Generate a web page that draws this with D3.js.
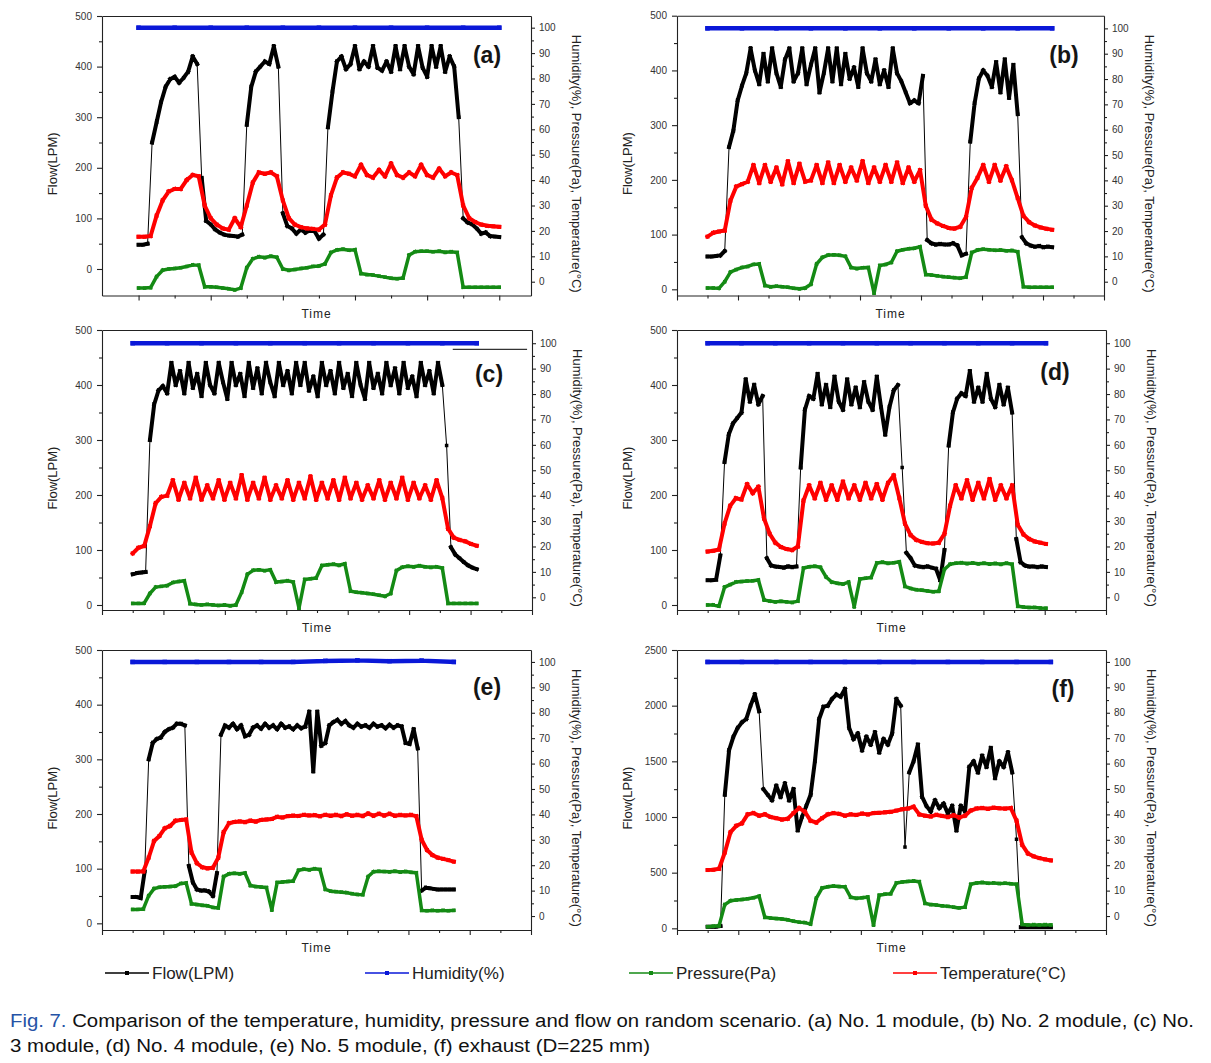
<!DOCTYPE html>
<html>
<head>
<meta charset="utf-8">
<script src="https://cdn.jsdelivr.net/npm/d3@7"></script>
<style>
  body { margin: 0; background: #fff; }
  svg { display: block; font-family: "Liberation Sans", Arial, sans-serif; }
  .axis path, .axis line { stroke: #222; stroke-width: 1.1; }
  .axis text { fill: #333; font-size: 10px; font-family: "Liberation Sans", Arial, sans-serif; }
</style>
</head>
<body>
<svg id="chart" width="1211" height="1063"></svg>
<script>
// ---- data (flow on left axis, the rest on right axis) ----
const aFlow = [48,48,50,250,290,330,360,375,380,368,378,390,420,405,180,95,88,78,72,68,66,65,64,68,285,360,390,400,410,405,440,400,110,85,80,70,78,72,76,75,60,68,280,350,410,420,395,405,440,395,410,400,440,398,392,410,390,440,395,440,400,385,440,398,380,440,400,440,390,420,400,300,100,92,88,80,70,72,65,64,63];
const aTemp = [17.7,17.7,18,26,32,35.5,36.5,36.5,40,42,41.5,30,25,22.5,21,20.5,25,21.5,30,39,43,42.5,43,41.5,32,25,22.5,21.5,21,20.8,20.5,22.5,34,41,43,42.5,41.5,46,42,41,44,41.5,46.5,42,41,43,41.5,46,42,41,44.5,41.5,43,42,30,25,23.5,22.5,22,21.8,21.6];
const aPres = [-2.5,-2.5,-2.3,2,4.5,5,5.2,5.5,6,6.6,6.5,-2,-2,-2.2,-2.5,-2.8,-3.2,-2.5,5.5,9,9.8,9.5,10,9.6,5,4.5,4.8,5.2,5.5,6,6.2,7,11.5,12.5,12.8,12.4,12.6,3.2,2.8,2.6,2.2,1.8,1.4,1.2,1.5,10.5,11.8,12,12,11.8,12,11.6,11.8,11.5,-2.2,-2.2,-2.2,-2.2,-2.2,-2.2,-2.2];
const aHum = [100,100,100,100,100,100,100,100,100,100,100];

const bFlow = [60,60,61,62,70,260,290,345,372,395,440,400,375,430,380,440,395,370,420,440,380,395,440,375,410,440,360,395,440,380,440,375,430,385,405,370,440,395,380,420,375,400,370,440,395,380,360,340,345,340,390,90,84,82,83,82,82,84,80,62,65,270,340,385,400,390,370,415,360,420,350,410,320,95,84,80,78,79,77,78,77];
const bTemp = [17.8,19.3,19.8,20.2,32,37.5,38.5,39.5,46,39,46,39.5,45,38.5,47.5,39,46.5,39.5,40,46,39,47,39,46,39.5,45,40,47.5,39,45,39.5,46,39.5,47,39,45,39.5,44,30,24.5,23,22,21.2,21,21.7,25.5,37,41,46,39.5,46,40,45.5,40,33,26,23.5,22.2,21.4,20.9,20.5];
const bPres = [-2.5,-2.5,-2.6,0,3.8,4.8,5.6,6,6.8,7,-1.5,-2,-1.8,-2,-2.2,-2.6,-2.8,-2.5,-1,7,9.6,10.5,10.6,10.4,10,5.6,5.2,5.5,5.6,-4.5,6.4,6.8,7.6,12,12.6,13,13.2,13.8,2.8,2.6,2.3,2,1.8,1.6,1.4,1.8,11.5,12.5,12.8,12.6,12.4,12.5,12.2,12.3,11.8,-2,-2.2,-2.2,-2.2,-2.2,-2.2];
const bHum = [100,100,100,100,100,100,100,100,100,100,100];

const cFlow = [56,58,59,60,300,365,390,398,385,440,400,425,385,440,395,420,380,440,400,385,440,405,375,440,400,420,380,440,395,430,385,440,405,380,440,400,425,385,440,400,440,390,415,380,440,400,425,385,440,395,420,380,440,400,375,440,395,420,385,440,400,430,385,440,395,415,380,440,400,425,385,440,400,290,105,92,85,78,72,68,65];
const cTemp = [17.3,19.5,20.2,28,37,39.5,40,46,38.5,45,39,47,38.5,44,39,46,38.5,45,39,48,38.5,45,39,47,38.5,44,39,46,38.5,45,39,47.5,38.5,45,39,46,38.5,47,39,45,38.5,44,39,46,38.5,45,39,47,38.5,45,39,44,38.5,46,39,27,23.5,22.6,22,21,20.3];
const cPres = [-2.4,-2.4,-2.3,1.5,4,4.3,4.6,5.8,6.2,6.5,-2.5,-2.8,-3,-2.8,-3,-3.2,-3,-3.3,-3,2,9,10.6,10.8,10.5,10.8,6,6.2,6.5,6,-4.3,7,7.3,7.6,12.5,12.8,13,12.6,13.2,2.4,2,1.8,1.5,1.2,0.8,0.4,1.5,10.5,11.8,12.2,12,12.4,12,11.8,12,11.5,-2.4,-2.4,-2.4,-2.4,-2.4,-2.4];
const cHum = [100,100,100,100,100,100,100,100,100,100,100];
const cStray = [97.6, 97.6];
const cStrayTime = [5.71, 6.92];

const dFlow = [45,45,46,90,260,310,330,340,350,410,370,400,365,380,85,72,70,69,68,70,69,70,250,355,380,375,420,365,400,360,415,370,355,410,365,395,360,405,370,355,415,360,310,360,390,400,250,95,85,72,70,69,70,68,66,45,100,290,350,375,385,380,425,370,395,370,420,375,360,400,365,395,350,120,78,72,70,70,69,70,69];
const dTemp = [18,18.3,18.8,29,36,39,38.5,44.5,41,43.5,31,25,21.5,19.8,19,18.6,20,38,44,39,45,38.5,44,38.5,45.5,39,44,38.5,45,39,44.5,38.5,45,48,39,29,24.5,22.6,21.8,21.3,21.2,21.5,25,36,44,39,46,38.5,45,39,46.5,38.5,44,39,44,28.5,24.8,23,22,21.5,21];
const dPres = [-3,-3,-3.5,4,5,6,6.2,6.4,6.5,6.8,-1,-1.5,-1.8,-1.6,-1.8,-2,-1.5,11.5,12,12.2,11.8,8,6,5.5,5.2,6,-3.7,7.2,7.5,7.8,13.5,13.8,13.4,13.6,14,4.3,3.5,3,2.8,2.5,2.2,2.4,11,13,13.4,13.6,13.3,13.5,13.2,13.4,13.1,13.3,13,13.4,13,-3.5,-3.8,-4,-4,-4.2,-4.3];
const dHum = [100,100,100,100,100,100,100,100,100,100,100];

const eFlow = [48,48,46,95,300,330,337,340,350,355,358,365,365,362,105,75,62,60,60,58,50,92,345,362,358,365,355,362,342,345,358,362,356,365,358,362,355,365,358,360,355,362,357,360,387,278,387,325,330,362,368,372,365,370,362,358,365,360,362,358,365,360,362,357,363,358,362,360,330,328,355,320,60,65,64,63,62,62,62,62,62];
const eTemp = [17.5,17.5,17.6,23,29.5,31.5,34.5,35.5,37.5,37.8,38,25,20.8,19.2,18.8,19,23,33,36.5,37,37.2,37,37.5,37.2,37.8,38,38.2,39,38.8,39.3,39.5,39.4,39.8,39.6,39.7,39.3,39.8,39.5,39.8,39.4,40,39.5,39.8,39.4,40.3,39.5,40.2,39.6,40.2,39.5,39.8,39.6,39.8,39.3,30,26,24,23,22.5,22,21.4];
const ePres = [2.6,2.6,2.8,8,10.8,11.3,11.5,11.6,11.8,12.8,13,4.8,4.5,4.2,4,3.4,3.2,15.5,16.6,16.8,16.6,16.9,12,11.6,11.4,11.2,2.4,13.2,13.4,13.6,13.8,18,18.4,18.2,18.6,18.3,10.5,9.8,9.6,9.4,9.2,8.8,8.5,8.4,15.5,17.4,17.6,17.5,17.4,17.6,17.3,17.5,17.2,17,2.2,2.1,2.2,2.1,2.2,2.1,2.2];
const eHum = [100,100,100,100,100,100,100.4,100.6,100.3,100.5,100];

const fFlow = [15,15,15,20,1200,1600,1720,1800,1850,1880,2000,2100,1950,1250,1200,1150,1280,1180,1300,1150,1250,880,1000,1100,1200,1500,1880,1990,2000,2060,2100,2080,2150,1800,1700,1750,1600,1720,1650,1760,1580,1700,1650,1750,2060,2000,730,1400,1500,1650,1180,1100,1050,1150,1080,1120,1030,1100,880,1100,1050,1450,1500,1400,1550,1450,1620,1350,1500,1450,1580,1400,800,10,10,10,10,10,10,10,10];
const fTemp = [18.1,18.2,18.6,25,33,35.5,36.5,40,40.5,39.5,40,39,38.5,38,38.3,40.5,42.5,41,37.5,36.8,38.5,40,40.5,40.2,39.5,40,39.8,40.3,40,40.5,40.6,40.8,41,41.5,42,42.3,43,40,39.5,39.2,39.8,39.4,39,39.6,38.8,39.5,41.5,42.3,42.5,42.2,42.6,42.4,42.3,42.5,37.5,28,24.6,23.5,22.8,22.3,21.9];
const fPres = [-4.2,-4,-3.8,4.5,6,6.3,6.5,6.8,7.2,7.8,-0.5,-0.8,-1,-1.2,-1.5,-2,-2.4,-2.6,-3.2,7,11,11.5,11.8,11.6,11.5,7.4,7,7.2,7.5,-3.5,8.2,8.6,8.8,13,13.4,13.6,13.8,13.5,5,4.5,4.3,4,3.8,3.5,3.2,3.5,12.5,13,13.2,12.9,13,12.8,12.9,12.7,12.5,-3.3,-3.5,-3.4,-3.5,-3.4,-3.5];
const fHum = [100,100,100,100,100,100,100,100,100,100,100];

// ---- tick labels ----
const flowTicks = [0,100,200,300,400,500];
const flowMinor = [50,150,250,350,450];
const exhaustTicks = [0,500,1000,1500,2000,2500];
const exhaustMinor = [250,750,1250,1750,2250];
const rightTicks = [0,10,20,30,40,50,60,70,80,90,100];
const rightMinor = [5,15,25,35,45,55,65,75,85,95];
const timeTicksA = [0,1,2,3,4,5];
const timeMinorA = [0.5,1.5,2.5,3.5,4.5];
const timeTicks = [0,1,2,3,4,5,6,7];
const timeMinor = [0.5,1.5,2.5,3.5,4.5,5.5,6.5];

const legendNames = ["Flow(LPM)", "Humidity(%)", "Pressure(Pa)", "Temperature(\u00B0C)"];
const colors = { flow: "#000000", hum: "#0a18d8", pres: "#148a14", temp: "#ff0000" };

// ---- layout of the six panels ----
const panels = [
  { name: "(a)", flow: aFlow, temp: aTemp, pres: aPres, hum: aHum, left: 102, right: 531, top: 16, bottom: 295.5,
    xDom: [-0.507, 5.44], span: [0, 5], yDom: [-52.4, 500], rDom: [-5.43, 104.6],
    xt: timeTicksA, xm: timeMinorA, yt: flowTicks, ym: flowMinor, lab: [487, 63] },
  { name: "(b)", flow: bFlow, temp: bTemp, pres: bPres, hum: bHum, left: 677, right: 1104, top: 15.7, bottom: 295.5,
    xDom: [0, 7], span: [0.5, 6.15], yDom: [-11.3, 500], rDom: [-5.45, 105],
    xt: timeTicks, xm: timeMinor, yt: flowTicks, ym: flowMinor, lab: [1064, 63] },
  { name: "(c)", flow: cFlow, temp: cTemp, pres: cPres, hum: cHum, left: 102, right: 532, top: 330, bottom: 610,
    xDom: [0, 7], span: [0.5, 6.1], yDom: [-9.1, 500], rDom: [-5, 105.2],
    xt: timeTicks, xm: timeMinor, yt: flowTicks, ym: flowMinor, lab: [489, 382] },
  { name: "(d)", flow: dFlow, temp: dTemp, pres: dPres, hum: dHum, left: 677, right: 1106, top: 330, bottom: 610,
    xDom: [0, 7], span: [0.5, 6.02], yDom: [-9.1, 500], rDom: [-5, 105.2],
    xt: timeTicks, xm: timeMinor, yt: flowTicks, ym: flowMinor, lab: [1055, 380] },
  { name: "(e)", flow: eFlow, temp: eTemp, pres: ePres, hum: eHum, left: 102, right: 531, top: 650, bottom: 930,
    xDom: [0, 7], span: [0.5, 5.74], yDom: [-12.2, 500], rDom: [-5.5, 104.7],
    xt: timeTicks, xm: timeMinor, yt: flowTicks, ym: flowMinor, lab: [487, 695] },
  { name: "(f)", flow: fFlow, temp: fTemp, pres: fPres, hum: fHum, left: 677, right: 1106, top: 650, bottom: 930,
    xDom: [0, 7], span: [0.5, 6.1], yDom: [-15, 2500], rDom: [-5.5, 104.7],
    xt: timeTicks, xm: timeMinor, yt: exhaustTicks, ym: exhaustMinor, lab: [1063, 697] }
];

const svg = d3.select("#chart");
const defs = svg.append("defs");

// thin line through all points, thick where the step is small, square markers
function drawSeries(g, vals, span, x, y, color, w, ms) {
  const pts = vals.map((v, i) => [x(span[0] + i * (span[1] - span[0]) / (vals.length - 1)), y(v)]);
  g.append("path")
    .attr("d", d3.line()(pts))
    .attr("fill", "none")
    .attr("stroke", color)
    .attr("stroke-width", 1);
  const segs = d3.pairs(pts).filter(([a, b]) => Math.abs(a[1] - b[1]) < 60);
  g.append("path")
    .attr("d", segs.map(([a, b]) => `M${a[0]},${a[1]}L${b[0]},${b[1]}`).join(""))
    .attr("fill", "none")
    .attr("stroke", color)
    .attr("stroke-width", w)
    .attr("stroke-linecap", "square");
  g.append("g").selectAll("rect")
    .data(pts)
    .enter().append("rect")
    .attr("x", d => d[0] - ms / 2)
    .attr("y", d => d[1] - ms / 2)
    .attr("width", ms)
    .attr("height", ms)
    .attr("fill", color);
}

panels.forEach((p, k) => {
  const x = d3.scaleLinear().domain(p.xDom).range([p.left, p.right]);
  const yL = d3.scaleLinear().domain(p.yDom).range([p.bottom, p.top]);
  const yR = d3.scaleLinear().domain(p.rDom).range([p.bottom, p.top]);

  defs.append("clipPath").attr("id", "clip" + k)
    .append("rect")
    .attr("x", p.left).attr("y", p.top)
    .attr("width", p.right - p.left).attr("height", p.bottom - p.top);

  const plot = svg.append("g").attr("clip-path", `url(#clip${k})`);
  drawSeries(plot, p.flow, p.span, x, yL, colors.flow, 4, 3.5);
  drawSeries(plot, p.pres, p.span, x, yR, colors.pres, 3.5, 3.5);
  drawSeries(plot, p.temp, p.span, x, yR, colors.temp, 4, 4);
  drawSeries(plot, p.hum, p.span, x, yR, colors.hum, 4.5, 4.5);

  if (p.name === "(c)") {
    plot.append("path")
      .attr("d", d3.line()(cStray.map((v, i) => [x(cStrayTime[i]), yR(v)])))
      .attr("fill", "none").attr("stroke", "#000").attr("stroke-width", 1);
  }

  // bottom axis (no labels)
  svg.append("g").attr("class", "axis")
    .attr("transform", `translate(0,${p.bottom})`)
    .call(d3.axisBottom(x).tickValues(p.xt).tickSize(5).tickSizeOuter(0).tickFormat(""));
  svg.append("g").attr("class", "axis")
    .attr("transform", `translate(0,${p.bottom})`)
    .call(d3.axisBottom(x).tickValues(p.xm).tickSize(3).tickSizeOuter(0).tickFormat(""))
    .call(g => g.select(".domain").remove());

  // top frame
  svg.append("g").attr("class", "axis")
    .attr("transform", `translate(0,${p.top})`)
    .call(d3.axisTop(x).tickValues([]).tickSizeOuter(0));

  // left axis: flow
  svg.append("g").attr("class", "axis")
    .attr("transform", `translate(${p.left},0)`)
    .call(d3.axisLeft(yL).tickValues(p.yt).tickFormat(d3.format("d")).tickSize(5).tickPadding(5).tickSizeOuter(0));
  svg.append("g").attr("class", "axis")
    .attr("transform", `translate(${p.left},0)`)
    .call(d3.axisLeft(yL).tickValues(p.ym).tickSize(3).tickSizeOuter(0).tickFormat(""))
    .call(g => g.select(".domain").remove());

  // right axis: humidity, pressure, temperature
  svg.append("g").attr("class", "axis")
    .attr("transform", `translate(${p.right},0)`)
    .call(d3.axisRight(yR).tickValues(rightTicks).tickFormat(d3.format("d")).tickSize(4).tickPadding(4).tickSizeOuter(0));
  svg.append("g").attr("class", "axis")
    .attr("transform", `translate(${p.right},0)`)
    .call(d3.axisRight(yR).tickValues(rightMinor).tickSize(3).tickSizeOuter(0).tickFormat(""))
    .call(g => g.select(".domain").remove());

  const midY = (p.top + p.bottom) / 2 + 8;
  svg.append("text")
    .attr("transform", `translate(${p.left - 45},${midY}) rotate(-90)`)
    .attr("text-anchor", "middle")
    .attr("font-size", 13)
    .attr("fill", "#222")
    .text("Flow(LPM)");

  svg.append("text")
    .attr("transform", `translate(${p.right + 41},${midY}) rotate(90)`)
    .attr("text-anchor", "middle")
    .attr("font-size", 13)
    .attr("fill", "#222")
    .text("Humidity(%), Pressure(Pa), Temperature(\u00B0C)");

  svg.append("text")
    .attr("x", (p.left + p.right) / 2)
    .attr("y", p.bottom + 22)
    .attr("text-anchor", "middle")
    .attr("font-size", 12)
    .attr("letter-spacing", 1)
    .attr("fill", "#222")
    .text("Time");

  svg.append("text")
    .attr("x", p.lab[0])
    .attr("y", p.lab[1])
    .attr("text-anchor", "middle")
    .attr("font-size", 23)
    .attr("font-weight", "bold")
    .attr("fill", "#151515")
    .text(p.name);
});

// ---- legend ----
const legendX = [105, 365, 629, 893];
const legendColors = [colors.flow, colors.hum, colors.pres, colors.temp];
const legend = svg.append("g")
  .selectAll("g")
  .data(legendNames)
  .enter().append("g")
  .attr("transform", (d, i) => `translate(${legendX[i]},973)`);

legend.append("line")
  .attr("x1", 0).attr("x2", 44)
  .attr("stroke", (d, i) => legendColors[i])
  .attr("stroke-width", 1.6);

legend.append("rect")
  .attr("x", 20).attr("y", -2).attr("width", 4).attr("height", 4)
  .attr("fill", (d, i) => legendColors[i]);

legend.append("text")
  .attr("x", 47)
  .attr("y", 6)
  .attr("font-size", 17)
  .attr("fill", "#222")
  .text(d => d);

// ---- caption ----
const cap1 = svg.append("text")
  .attr("x", 10).attr("y", 1027)
  .attr("font-size", 18)
  .attr("textLength", 1184)
  .attr("lengthAdjust", "spacingAndGlyphs");
cap1.append("tspan").attr("fill", "#2553a6").text("Fig. 7.");
cap1.append("tspan").attr("fill", "#111")
  .text(" Comparison of the temperature, humidity, pressure and flow on random scenario. (a) No. 1 module, (b) No. 2 module, (c) No.");

svg.append("text")
  .attr("x", 10).attr("y", 1052)
  .attr("font-size", 18)
  .attr("fill", "#111")
  .attr("textLength", 640)
  .attr("lengthAdjust", "spacingAndGlyphs")
  .text("3 module, (d) No. 4 module, (e) No. 5 module, (f) exhaust (D=225 mm)");
</script>
</body>
</html>
